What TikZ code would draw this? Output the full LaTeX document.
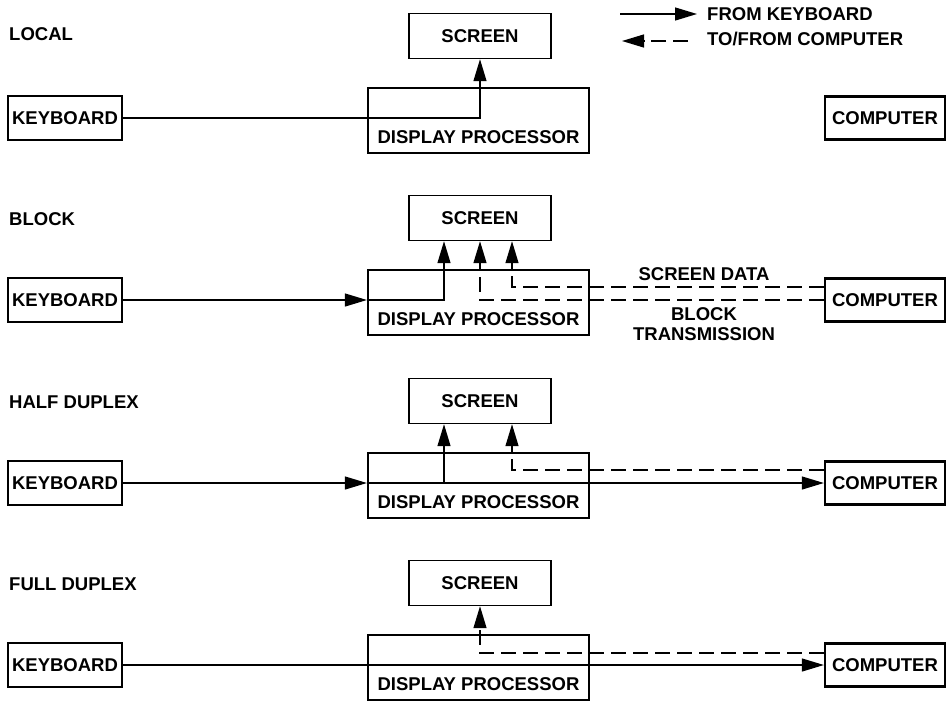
\documentclass[tikz,border=0pt]{standalone}
\usepackage{fontspec}
\setmainfont{Liberation Sans}
\usetikzlibrary{arrows.meta}
\tikzset{box/.style={draw,line width=2.3pt,inner sep=0pt,minimum height=44pt},
  kbd/.style={box,minimum width=114pt},
  cpu/.style={box,minimum width=120pt,minimum height=43pt},
  proc/.style={box,minimum width=221pt,text height=55pt,text depth=10pt},
  scr/.style={box,line width=1.4pt,minimum width=142pt,minimum height=45pt},
  lbl/.style={anchor=west,inner sep=0pt},
  arr/.style={-{Triangle[length=22pt,width=13pt]},line width=1.3pt},
  dsh/.style={arr,dash pattern=on 15pt off 7pt}}

\begin{document}
\begin{tikzpicture}[x=1pt,y=-1pt,font=\bfseries\fontsize{18.5}{20}\selectfont]
\useasboundingbox (0,0) rectangle (947,702);
% legend
\node[lbl] (fk) at (707,14){FROM KEYBOARD};
\node[lbl] (tc) at (707,39){TO/FROM COMPUTER};
\coordinate (lgA) at (620,14); \coordinate (lgB) at (688,41);
\draw[arr] (lgA)--([xshift=-10pt]fk.west);
\draw[dsh] (lgB)--(622,41);
% local
\node[lbl] (mL) at (9,34){LOCAL};
\node[scr] (scL) at (480,36){SCREEN};
\node[proc] (dpL) at (478.5,120.5){DISPLAY PROCESSOR};
\node[kbd] (kbL) at (65,118){KEYBOARD};
\node[cpu] (cpL) at (885,118){COMPUTER};
\draw[arr] (kbL.east)-|(scL.south);
% block
\node[lbl] (mB) at (9,219){BLOCK};
\node[scr] (scB) at (480,218){SCREEN};
\node[proc] (dpB) at (478.5,302.5){DISPLAY PROCESSOR};
\node[kbd] (kbB) at (65,300){KEYBOARD};
\node[cpu] (cpB) at (885,300){COMPUTER};
\node (sdB) at (704,274){SCREEN DATA};
\node[align=center] (btB) at (704,324){BLOCK\\TRANSMISSION};
\draw[arr] (kbB)--(dpB.west|-kbB);
\draw[arr] (dpB.west|-kbB)-|([xshift=-36pt]scB.south);
\draw[dsh] (cpB.west)-|(scB.south);
\draw[dsh] ([yshift=13pt]cpB.west)-|([xshift=32pt]scB.south);
% half duplex
\node[lbl] (mH) at (9,402){HALF DUPLEX};
\node[scr] (scH) at (480,401){SCREEN};
\node[proc] (dpH) at (478.5,485.5){DISPLAY PROCESSOR};
\node[kbd] (kbH) at (65,483){KEYBOARD};
\node[cpu] (cpH) at (885,483){COMPUTER};
\draw[arr] (kbH)--(dpH.west|-kbH);
\draw[arr] (dpH.west|-kbH)--(cpH);
\draw[arr] ([xshift=-36pt]scH.south|-kbH)--([xshift=-36pt]scH.south);
\draw[dsh] ([yshift=13pt]cpH.west)-|([xshift=32pt]scH.south);
% full duplex
\node[lbl] (mF) at (9,584){FULL DUPLEX};
\node[scr] (scF) at (480,583){SCREEN};
\node[proc] (dpF) at (478.5,667.5){DISPLAY PROCESSOR};
\node[kbd] (kbF) at (65,665){KEYBOARD};
\node[cpu] (cpF) at (885,665){COMPUTER};
\draw[arr] (kbF)--(cpF);
\draw[dsh] ([yshift=12pt]cpF.west)-|(scF.south);
\end{tikzpicture}
\end{document}
